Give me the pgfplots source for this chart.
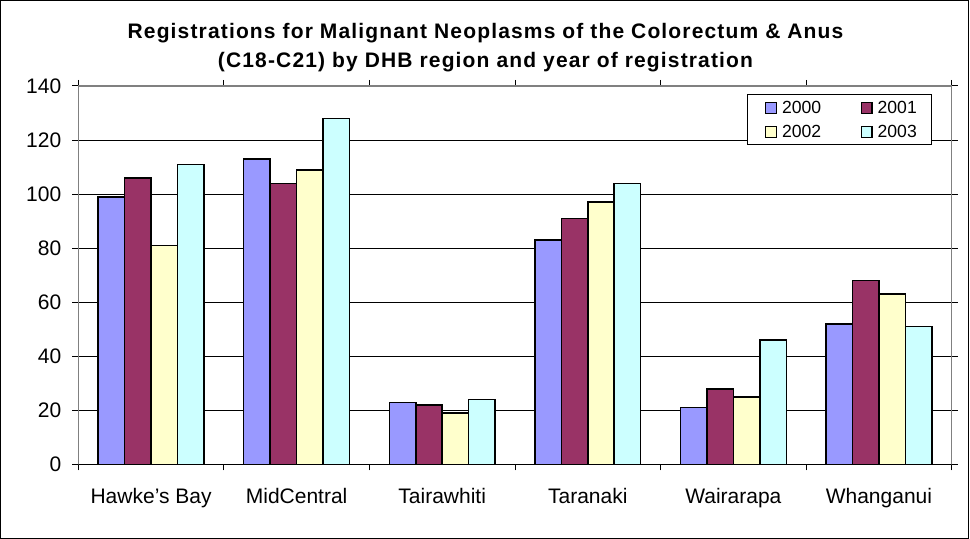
\documentclass[border=0pt]{standalone}
\usepackage{pgfplots}
\pgfplotsset{compat=1.18}
\usepackage{fontspec}
\setmainfont{Liberation Sans}
\definecolor{cA}{HTML}{9999FF}
\definecolor{cB}{HTML}{993366}
\definecolor{cC}{HTML}{FFFFCC}
\definecolor{cD}{HTML}{CCFFFF}
\begin{document}
\begin{tikzpicture}
\useasboundingbox (0,0) rectangle (485pt,269.5pt);
\draw[line width=0.6pt] (0.4pt,0.4pt) rectangle (484.1pt,269.1pt);
\node[font=\bfseries\fontsize{10.5}{14.5}\selectfont\addfontfeature{LetterSpace=5.5}, align=center] at (242.75pt,245.8pt) {Registrations for Malignant Neoplasms of the Colorectum \& Anus\\(C18-C21) by DHB region and year of registration};
\begin{axis}[
  at={(39.15pt,37.25pt)}, anchor=south west,
  scale only axis, width=436.7pt, height=189.25pt,
  xmin=-0.5, xmax=5.5, ymin=0, ymax=140,
  ytick={0,20,...,140},
  xtick={0,...,5},
  xticklabels={Hawke's Bay,MidCentral,Tairawhiti,Taranaki,Wairarapa,Whanganui},
  minor xtick={-0.5,0.5,...,5.5},
  tick align=outside,
  major tick length=3pt, minor tick length=3pt,
  x tick style={draw=none},
  minor x tick style={draw=black, line width=0.5pt},
  y tick style={draw=black, line width=0.5pt},
  ymajorgrids, grid style={black, line width=0.5pt},
  axis line style={draw=gray, line width=0.6pt},
  ticklabel style={font=\fontsize{10.5}{12}\selectfont},
  /pgf/number format/assume math mode=true,
  xticklabel style={yshift=-5.5pt},
  yticklabel style={xshift=-2pt},
  ybar, bar width=0.1818,
  every axis plot/.append style={draw=black, line width=0.75pt},
  legend columns=2,
  legend style={at={(0.9778,0.978)}, anchor=north east, font=\fontsize{8.8}{10}\selectfont,
    draw=black, line width=0.5pt, inner xsep=7.5pt, inner ysep=0.5pt, row sep=0pt,
    nodes={text height=7pt, text depth=1pt, inner ysep=2pt, inner xsep=0pt},
    /tikz/every even column/.append style={column sep=18.5pt}},
  legend image code/.code={\path[draw=none,fill=none] (-1.5pt,0) -- (8.2pt,0);\draw[#1, line width=0.6pt] (0pt,-2.7pt) rectangle (5.4pt,2.7pt);},
]
\addplot[fill=cA, bar shift=-0.2727] coordinates {(0,99) (1,113) (2,23) (3,83) (4,21) (5,52)};
\addplot[fill=cB, bar shift=-0.0909] coordinates {(0,106) (1,104) (2,22) (3,91) (4,28) (5,68)};
\addplot[fill=cC, bar shift=0.0909] coordinates {(0,81) (1,109) (2,19) (3,97) (4,25) (5,63)};
\addplot[fill=cD, bar shift=0.2727] coordinates {(0,111) (1,128) (2,24) (3,104) (4,46) (5,51)};
\legend{2000,2001,2002,2003}
\draw[black, line width=0.6pt] (axis cs:-0.5,0) -- (axis cs:5.5,0);
\end{axis}
\end{tikzpicture}
\end{document}
